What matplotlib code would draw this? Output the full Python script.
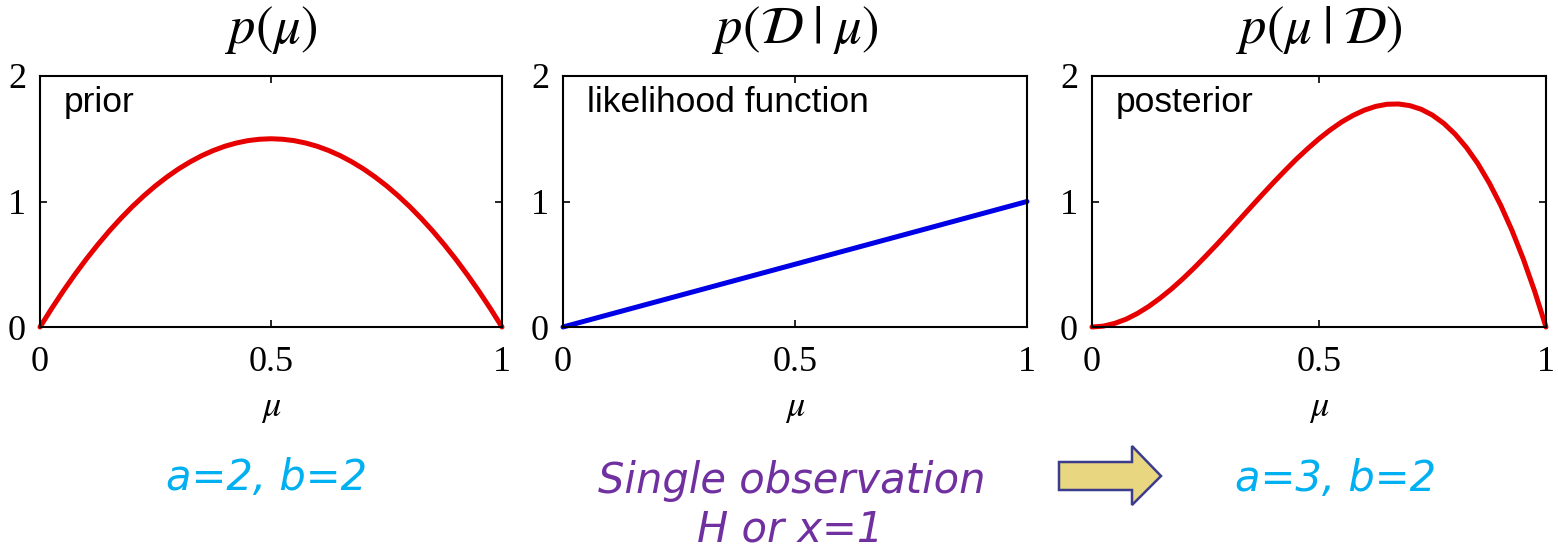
"""Beta prior, Bernoulli likelihood and Beta posterior, side by side."""

import matplotlib.pyplot as plt
from matplotlib.patches import Polygon

# mu grid for the two Beta curves (step 0.025)
MU = [i / 40 for i in range(41)]

# prior Beta(a=2, b=2)
PRIOR = [0.000, 0.146, 0.285, 0.416, 0.540, 0.656, 0.765, 0.866, 0.960, 1.046,
         1.125, 1.196, 1.260, 1.316, 1.365, 1.406, 1.440, 1.466, 1.485, 1.496,
         1.500, 1.496, 1.485, 1.466, 1.440, 1.406, 1.365, 1.316, 1.260, 1.196,
         1.125, 1.046, 0.960, 0.866, 0.765, 0.656, 0.540, 0.416, 0.285, 0.146,
         0.000]

# posterior Beta(a=3, b=2)
POSTERIOR = [0.000, 0.007, 0.029, 0.062, 0.108, 0.164, 0.230, 0.303, 0.384, 0.471,
             0.563, 0.658, 0.756, 0.856, 0.956, 1.055, 1.152, 1.246, 1.337, 1.421,
             1.500, 1.571, 1.634, 1.686, 1.728, 1.758, 1.775, 1.777, 1.764, 1.735,
             1.688, 1.622, 1.536, 1.429, 1.301, 1.148, 0.972, 0.770, 0.542, 0.285,
             0.000]

# likelihood of a single observation x=1
LIK_MU = [0.0, 0.5, 1.0]
LIKELIHOOD = [0.0, 0.5, 1.0]

TITLES = [r"$p(\mu)$", r"$p(\mathcal{D}\;|\;\mu)$", r"$p(\mu\;|\;\mathcal{D})$"]
LABELS = ["prior", "likelihood function", "posterior"]
XTICKS = [0, 0.5, 1]
XTICKLABELS = ["0", "0.5", "1"]
YTICKS = [0, 1, 2]

RED = "#E60000"
BLUE = "#0000E6"
CYAN = "#00B0F0"
PURPLE = "#7030A0"

W, H = 1558, 554

plt.rcParams["mathtext.fontset"] = "stix"

fig = plt.figure(figsize=(W / 100, H / 100), dpi=100)

# axes boxes in pixels: left, right
BOXES = [(40, 502), (563, 1027), (1092, 1546)]
TOP, BOTTOM = 76, 327

series = [(MU, PRIOR, RED), (LIK_MU, LIKELIHOOD, BLUE), (MU, POSTERIOR, RED)]

for (left, right), (xs, ys, col), title, label in zip(BOXES, series, TITLES, LABELS):
    ax = fig.add_axes([left / W, 1 - BOTTOM / H, (right - left) / W, (BOTTOM - TOP) / H])
    ax.plot(xs, ys, color=col, linewidth=3.6, solid_capstyle="round",
            solid_joinstyle="round", clip_on=False)
    ax.set_xlim(0, 1)
    ax.set_ylim(0, 2)
    ax.set_xticks(XTICKS)
    ax.set_xticklabels(XTICKLABELS)
    ax.set_yticks(YTICKS)
    ax.tick_params(direction="in", length=5, width=1.2, top=True, right=True,
                   labelsize=26, pad=14)
    for t in ax.get_xticklabels() + ax.get_yticklabels():
        t.set_fontfamily("Liberation Serif")
    ax.tick_params(axis="y", pad=10)
    for spine in ax.spines.values():
        spine.set_linewidth(1.5)
    ax.set_xlabel(r"$\mu$", fontsize=26, labelpad=8)
    ax.text(0.5, 1.185, title, transform=ax.transAxes, ha="center", va="center",
            fontsize=38)
    ax.text(0.052, 0.895, label, transform=ax.transAxes, ha="left", va="center",
            fontsize=25.5, fontfamily="Liberation Sans")

# parameter captions under the panels
cap = dict(fontsize=30, fontstyle="italic", fontfamily="DejaVu Sans",
           ha="center", va="center")
fig.text(267 / W, 1 - 478 / H, "a=2, b=2", color=CYAN, **cap)
fig.text(792 / W, 1 - 481 / H, "Single observation", color=PURPLE, **cap)
fig.text(790 / W, 1 - 530 / H, "H or x=1", color=PURPLE, **cap)
fig.text(1336 / W, 1 - 479 / H, "a=3, b=2", color=CYAN, **cap)

# block arrow pointing to the posterior parameters
ARROW_PX = [(1059, 462), (1132, 462), (1132, 446), (1161, 476),
            (1132, 505), (1132, 490), (1059, 490)]
arrow = Polygon([(x / W, 1 - y / H) for x, y in ARROW_PX], closed=True,
                transform=fig.transFigure, facecolor="#E9D680",
                edgecolor="#3C3C8C", linewidth=1.8)
fig.patches.append(arrow)

fig.savefig("out.png", dpi=100, facecolor="white")
